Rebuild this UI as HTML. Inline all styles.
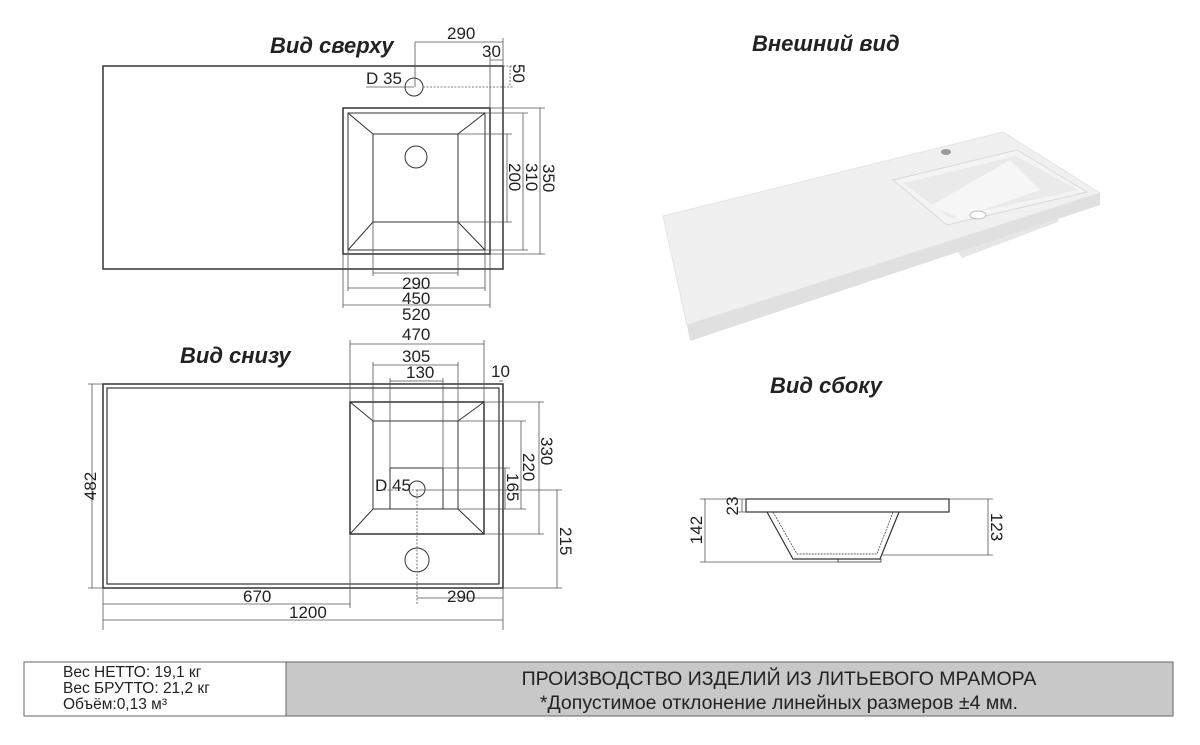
<!DOCTYPE html>
<html><head><meta charset="utf-8"><style>
body{margin:0;background:#fff;}
svg{display:block;font-family:"Liberation Sans",sans-serif;}
.t{font-size:17px;fill:#222;}
.h{font-size:22px;font-weight:bold;font-style:italic;fill:#222;}
</style></head><body>
<svg width="1200" height="745" viewBox="0 0 1200 745">
<!-- titles -->
<text class="h" x="270" y="53">Вид сверху</text>
<text class="h" x="752" y="51">Внешний вид</text>
<text class="h" x="180" y="363">Вид снизу</text>
<text class="h" x="770" y="393">Вид сбоку</text>

<!-- TOP VIEW -->
<g fill="none" stroke="#333" stroke-width="1.5">
<rect x="103" y="66" width="400" height="203"/>
<rect x="343" y="108" width="147" height="146"/>
<rect x="348" y="113" width="137" height="137" stroke-width="1"/>
<rect x="373" y="134" width="85" height="88" stroke-width="1"/>
<path d="M348 113L373 134M485 113L458 134M348 250L373 222M485 250L458 222" stroke-width="1"/>
<circle cx="416" cy="157" r="11" stroke-width="1"/>
<circle cx="414" cy="87" r="9" stroke-width="1"/>
</g>
<g stroke="#555" stroke-width="0.8" fill="none">
<path d="M415 42H503M415 42V87M503 38V66M490 60H503M490 56V108"/>
<path d="M510 66V87M503 66H514M423 87H514" stroke-dasharray="2 1.5"/>
<path d="M366 87H414"/>
<path d="M540 108V254M490 108H545M490 254H545M523 113V250M485 113H528M485 250H528M507 134V222M458 134H512M458 222H512"/>
<path d="M373 273H458M373 222V276M458 222V276M348 288H485M348 250V291M485 250V291M343 305H490M343 254V308M490 254V308"/>
</g>
<text class="t" x="447" y="39">290</text>
<text class="t" x="482" y="57">30</text>
<text class="t" x="366" y="84">D 35</text>
<text class="t" transform="translate(513,64) rotate(90)">50</text>
<text class="t" transform="translate(543,164) rotate(90)">350</text>
<text class="t" transform="translate(526,163) rotate(90)">310</text>
<text class="t" transform="translate(509,163) rotate(90)">200</text>
<text class="t" x="402" y="289">290</text>
<text class="t" x="402" y="304">450</text>
<text class="t" x="402" y="320">520</text>

<!-- BOTTOM VIEW -->
<g fill="none" stroke="#333" stroke-width="1.5">
<rect x="103" y="384" width="400" height="204"/>
<rect x="107" y="388" width="392" height="196" stroke-width="1.2"/>
<rect x="350" y="402" width="134" height="132"/>
<rect x="373" y="421" width="85" height="88" stroke-width="1"/>
<rect x="390" y="468" width="53" height="41" stroke-width="1"/>
<path d="M350 402L373 421M484 402L458 421M350 534L373 509M484 534L458 509" stroke-width="1"/>
<circle cx="417" cy="489" r="8" stroke-width="1"/>
<circle cx="417" cy="560" r="12" stroke-width="1"/>
</g>
<g stroke="#555" stroke-width="0.8" fill="none">
<path d="M350 344H484M350 340V402M484 340V402M373 365H458M373 362V421M458 362V421M390 381H443M390 378V468M443 378V468M499 381H503"/>
<path d="M92 384V588M88 384H103M88 588H103"/>
<path d="M539 402V534M484 402H544M484 534H544M521 421V509M458 421H526M458 509H526M505 468V509M443 468H510M557 490V588M417 490H562M503 588H562"/>
<path d="M384 490H417M417 490V604" stroke-dasharray="2 1.5"/>
<path d="M103 604H350M350 534V608M103 588V630M417 598H503M503 588V630M103 620H503"/>
</g>
<text class="t" x="402" y="340">470</text>
<text class="t" x="402" y="362">305</text>
<text class="t" x="406" y="378">130</text>
<text class="t" x="491" y="377">10</text>
<text class="t" x="375" y="491">D 45</text>
<text class="t" transform="translate(96,486) rotate(-90)" text-anchor="middle">482</text>
<text class="t" transform="translate(541,437) rotate(90)">330</text>
<text class="t" transform="translate(523,453) rotate(90)">220</text>
<text class="t" transform="translate(507,473) rotate(90)">165</text>
<text class="t" transform="translate(560,527) rotate(90)">215</text>
<text class="t" x="243" y="602">670</text>
<text class="t" x="447" y="602">290</text>
<text class="t" x="289" y="618">1200</text>

<!-- SIDE VIEW -->
<g fill="none" stroke="#333" stroke-width="1.2">
<rect x="746" y="499" width="203" height="13"/>
<path d="M767 512L793 559H880L899 512"/>
<path d="M773 512L797 554H877L893 512" stroke-width="0.7" stroke-dasharray="2 1"/>
<rect x="838" y="559" width="43" height="3" stroke-width="0.8"/>
</g>
<g stroke="#555" stroke-width="0.8" fill="none">
<path d="M705 499V562M700 499H746M700 562H838M742 499V512M738 512H746M988 499V555M949 499H993M881 555H993"/>
</g>
<text class="t" transform="translate(702,530) rotate(-90)" text-anchor="middle">142</text>
<text class="t" transform="translate(738,506) rotate(-90)" text-anchor="middle">23</text>
<text class="t" transform="translate(991,527) rotate(90)" text-anchor="middle">123</text>

<!-- 3D VIEW -->
<polygon points="947,225 1060,195 1058,222 962,258 955,248" fill="#e6e6e6"/>
<polygon points="687,325 1100,193 1100,205 690,341" fill="#e0e0e0"/>
<polygon points="663,216 1003,132 1100,193 687,325" fill="#f0f0f0" stroke="#e4e4e4"/>
<polygon points="893,180 1017,150 1087,192 947,225" fill="#f4f4f4" stroke="#d8d8d8"/>
<polygon points="903,183 1016,156 1078,190 950,218" fill="#eaeaea"/>
<polygon points="930,206 1010,160 1040,190 960,218" fill="#f6f6f6"/>
<ellipse cx="978" cy="215" rx="8" ry="4" fill="#fff" stroke="#bbb"/>
<ellipse cx="946" cy="152" rx="5" ry="3" fill="#999"/>

<!-- TABLE -->
<rect x="24" y="662" width="262" height="54" fill="#fff" stroke="#666"/>
<rect x="286" y="662" width="887" height="54" fill="#c8c8c8" stroke="#666"/>
<g style="font-size:15.5px;fill:#222">
<text x="63" y="677">Вес НЕТТО: 19,1 кг</text>
<text x="63" y="693">Вес БРУТТО: 21,2 кг</text>
<text x="63" y="709">Объём:0,13 м³</text>
</g>
<text x="779" y="685" text-anchor="middle" style="font-size:19.5px;fill:#222">ПРОИЗВОДСТВО ИЗДЕЛИЙ ИЗ ЛИТЬЕВОГО МРАМОРА</text>
<text x="779" y="709" text-anchor="middle" style="font-size:19.5px;fill:#222">*Допустимое отклонение линейных размеров ±4 мм.</text>
</svg>
</body></html>
